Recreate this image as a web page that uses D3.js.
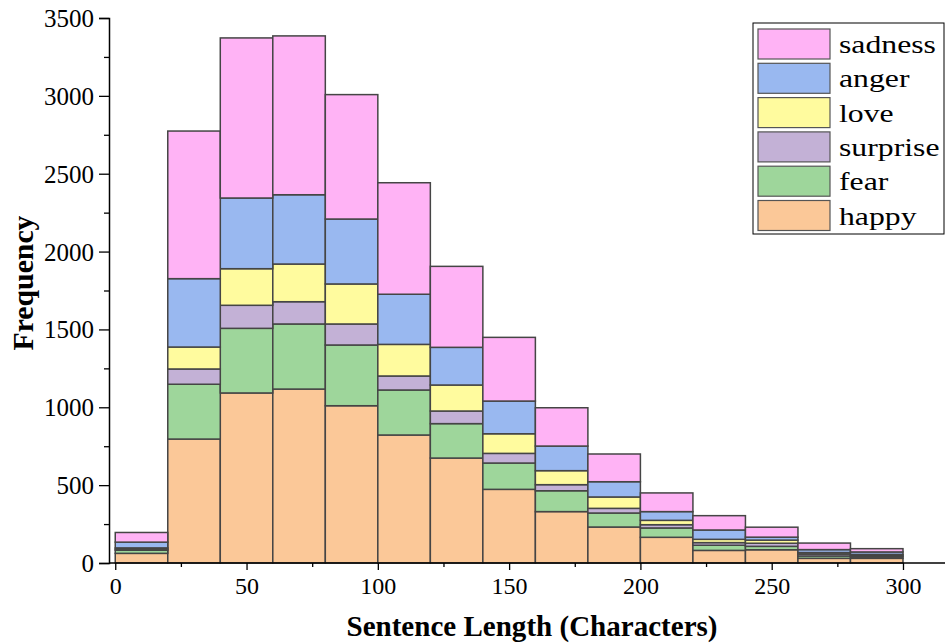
<!DOCTYPE html>
<html>
<head>
<meta charset="utf-8">
<script src="https://cdn.jsdelivr.net/npm/d3@7"></script>
<style>
  body { margin: 0; background: #fff; }
</style>
</head>
<body>
<script>
// bin edges (characters), width 20
var binStart = [0, 20, 40, 60, 80, 100, 120, 140, 160, 180, 200, 220, 240, 260, 280];
var binWidth = 20;

// emotions, bottom to top of each stack
var emotions = ["happy", "fear", "surprise", "love", "anger", "sadness"];
var colors = ["#fbc898", "#9ed69b", "#c3b1d6", "#fffb9e", "#99b8f0", "#ffb3f5"];

var happy    = [62, 796, 1092, 1117, 1010, 822, 674, 473, 330, 231, 165, 81, 85, 30, 30];
var fear     = [20, 352, 415, 418, 390, 289, 221, 169, 134, 90, 60, 33, 22, 15, 10];
var surprise = [7, 98, 148, 143, 135, 90, 81, 62, 39, 30, 21, 17, 20, 12, 8];
var love     = [8, 141, 235, 242, 257, 203, 167, 126, 90, 73, 28, 21, 20, 10, 7];
var anger    = [37, 439, 454, 445, 417, 322, 242, 210, 158, 98, 56, 60, 19, 19, 16];
var sadness  = [62, 948, 1028, 1020, 799, 716, 520, 409, 246, 178, 120, 92, 64, 42, 21];

var yTicks = [0, 500, 1000, 1500, 2000, 2500, 3000, 3500];
var xTicks = [0, 50, 100, 150, 200, 250, 300];

var series = {happy: happy, fear: fear, surprise: surprise, love: love, anger: anger, sadness: sadness};

var table = binStart.map(function(b, i) {
  var row = {x0: b, x1: b + binWidth};
  emotions.forEach(function(e) { row[e] = series[e][i]; });
  return row;
});

var FONT = "Liberation Serif";
var W = 945, H = 643;
var svg = d3.select("body").append("svg")
    .attr("width", W).attr("height", H);

var x = d3.scaleLinear().domain([-2, 316]).range([110, 945]);
var y = d3.scaleLinear().domain([0, 3500]).range([563, 18]);
var z = d3.scaleOrdinal().domain(emotions).range(colors);

var stacked = d3.stack().keys(emotions)(table);

svg.append("g").selectAll("g")
    .data(stacked)
  .enter().append("g")
    .attr("fill", function(d) { return z(d.key); })
  .selectAll("rect")
    .data(function(d) { return d; })
  .enter().append("rect")
    .attr("x", function(d) { return x(d.data.x0); })
    .attr("width", function(d) { return x(d.data.x1) - x(d.data.x0); })
    .attr("y", function(d) { return y(d[1]); })
    .attr("height", function(d) { return y(d[0]) - y(d[1]); })
    .attr("stroke", "#454545")
    .attr("stroke-width", 1.5);

// y axis
var gy = svg.append("g").attr("transform", "translate(109,0)");
gy.call(d3.axisLeft(y).tickValues(yTicks).tickSize(10).tickPadding(5).tickFormat(d3.format("d")));
gy.append("g").call(d3.axisLeft(y).tickValues(d3.range(250, 3500, 500)).tickSize(5).tickFormat(""))
  .select(".domain").remove();

// x axis
var gx = svg.append("g").attr("transform", "translate(0,563)");
gx.call(d3.axisBottom(x).tickValues(xTicks).tickSize(7).tickPadding(7).tickFormat(d3.format("d")));
gx.append("g").call(d3.axisBottom(x).tickValues(d3.range(25, 300, 50)).tickSize(4).tickFormat(""))
  .select(".domain").remove();
gx.select(".domain").attr("d", "M109,0H945");

svg.selectAll(".domain").attr("stroke", "#000").attr("stroke-width", 1.5);
svg.selectAll(".tick line").attr("stroke", "#000").attr("stroke-width", 1.3);
gy.selectAll(".tick text").style("font-family", FONT).style("font-size", "25px").attr("fill", "#000").attr("dy", "0.34em");
gx.selectAll(".tick text").style("font-family", FONT).style("font-size", "24px").attr("fill", "#000").attr("dy", "0.72em");

// axis titles
svg.append("text")
    .attr("transform", "translate(33,283) rotate(-90)")
    .attr("text-anchor", "middle")
    .attr("textLength", 135).attr("lengthAdjust", "spacingAndGlyphs")
    .style("font-family", FONT).style("font-size", "30px").style("font-weight", "bold")
    .text("Frequency");

svg.append("text")
    .attr("x", 532).attr("y", 636)
    .attr("text-anchor", "middle")
    .attr("textLength", 371).attr("lengthAdjust", "spacingAndGlyphs")
    .style("font-family", FONT).style("font-size", "30px").style("font-weight", "bold")
    .text("Sentence Length (Characters)");

// legend
var legend = svg.append("g").attr("transform", "translate(753,23)");
legend.append("rect")
    .attr("width", 191).attr("height", 211)
    .attr("fill", "#fff").attr("stroke", "#000").attr("stroke-width", 1);

var item = legend.selectAll(".item")
    .data(emotions.slice().reverse())
  .enter().append("g")
    .attr("class", "item")
    .attr("transform", function(d, i) { return "translate(5," + (6 + i * 34.3) + ")"; });

item.append("rect")
    .attr("width", 72).attr("height", 30)
    .attr("fill", function(d) { return z(d); })
    .attr("stroke", "#555").attr("stroke-width", 1.2);

item.append("text")
    .attr("transform", "translate(81,24) scale(1.27,1)")
    .style("font-family", FONT).style("font-size", "25px")
    .text(function(d) { return d; });
</script>
</body>
</html>
